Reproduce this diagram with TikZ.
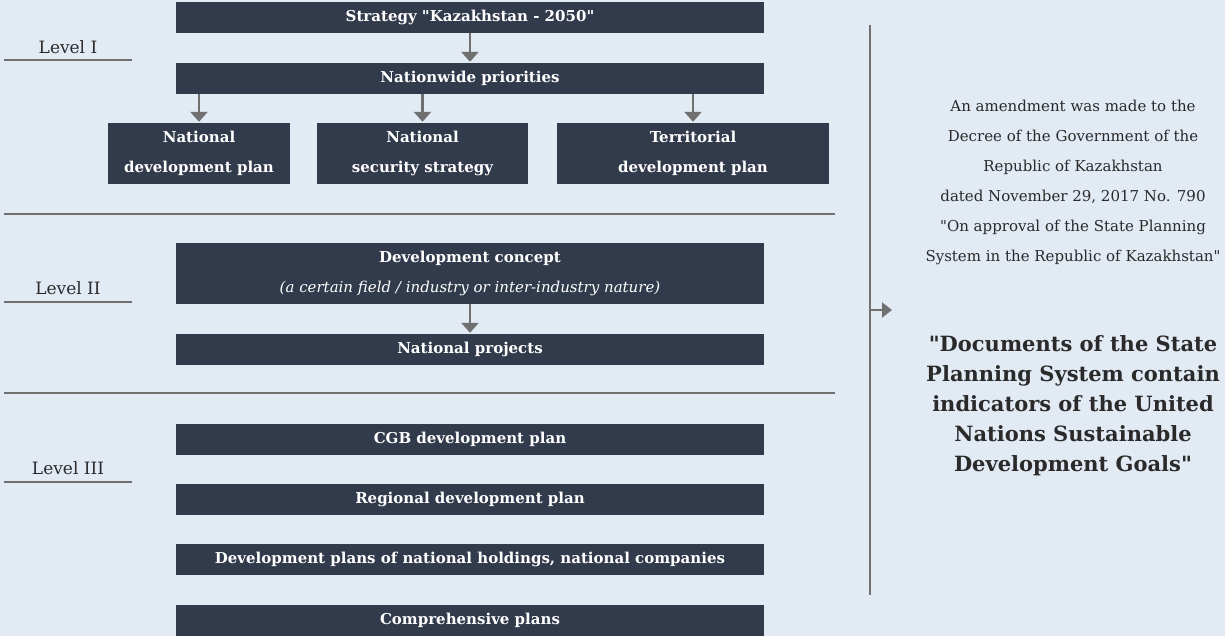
\documentclass[tikz,border=0pt]{standalone}
\usepackage{fontspec}
\setmainfont{DejaVu Serif}[Ligatures=TeXOff]
\usetikzlibrary{arrows.meta}
\definecolor{bg}{HTML}{E2EAF4}
\definecolor{boxc}{HTML}{323B4C}
\definecolor{linec}{HTML}{707070}
\definecolor{txt}{HTML}{2A2A2A}
\tikzset{
  box/.style={fill=boxc, text=white, inner sep=0pt, font=\bfseries\fontsize{15}{30}\selectfont, align=center},
  wide/.style={box, minimum width=588pt, minimum height=31pt},
  arr/.style={draw=linec, line width=2.5pt, -{Triangle[width=17pt,length=10pt]}, shorten >=1pt},
  rule/.style={draw=linec, line width=2pt},
  lvl/.style={font=\fontsize{17}{20}\selectfont, text=txt, inner sep=0pt}
}
\begin{document}
\begin{tikzpicture}[x=1pt,y=-1pt]
\fill[bg] (0,0) rectangle (1225,636);
\useasboundingbox (0,0) rectangle (1225,636);
% Level I
\node[wide] (s1) at (470,17.5) {Strategy "Kazakhstan - 2050"};
\node[wide] (s2) at (470,78.5) {Nationwide priorities};
\node[box, minimum width=182pt, minimum height=61pt] (n1) at (199,153.5) {National\\development plan};
\node[box, minimum width=211pt, minimum height=61pt] (n2) at (422.5,153.5) {National\\security strategy};
\node[box, minimum width=272pt, minimum height=61pt] (n3) at (693,153.5) {Territorial\\development plan};
\draw[arr] (s1.south) -- (s2.north);
\draw[arr] (s2.south -| n1.north) -- (n1.north);
\draw[arr] (s2.south -| n2.north) -- (n2.north);
\draw[arr] (s2.south -| n3.north) -- (n3.north);
\node[lvl] (lv1) at (68,47) {Level I};
\draw[rule] (4,60) -- (132,60);
\draw[rule] (4,214) -- (835,214);
% Level II
\node[box, minimum width=588pt, minimum height=61pt] (c1) at (470,273.5) {Development concept\\{\mdseries\itshape (a certain field / industry or inter-industry nature)}};
\node[wide] (c2) at (470,349.5) {National projects};
\draw[arr] (c1.south) -- (c2.north);
\node[lvl] (lv2) at (68,288) {Level II};
\draw[rule] (4,302) -- (132,302);
\draw[rule] (4,393) -- (835,393);
% Level III
\node[wide] (l1) at (470,439.5) {CGB development plan};
\node[wide] (l2) at (470,499.5) {Regional development plan};
\node[wide] (l3) at (470,559.5) {Development plans of national holdings, national companies};
\node[wide] (l4) at (470,620.5) {Comprehensive plans};
\node[lvl] (lv3) at (68,468) {Level III};
\draw[rule] (4,482) -- (132,482);
% right side
\coordinate (vt) at (870,25);
\coordinate (vb) at (870,595);
\coordinate (va) at (870,310);
\coordinate (vh) at (892,310);
\draw[rule] (vt) -- (vb);
\draw[draw=linec, line width=2pt, -{Triangle[width=15pt,length=10pt]}] (va) -- (vh);
\node[text=txt, align=center, font=\fontsize{15}{30}\selectfont, inner sep=0pt] (t1) at (1073,182) {An amendment was made to the\\Decree of the Government of the\\Republic of Kazakhstan\\dated November 29, 2017 No. 790\\"On approval of the State Planning\\System in the Republic of Kazakhstan"};
\node[text=txt, align=center, font=\bfseries\fontsize{21}{30}\selectfont, inner sep=0pt] (t2) at (1073,406) {"Documents of the State\\Planning System contain\\indicators of the United\\Nations Sustainable\\Development Goals"};
\end{tikzpicture}
\end{document}
